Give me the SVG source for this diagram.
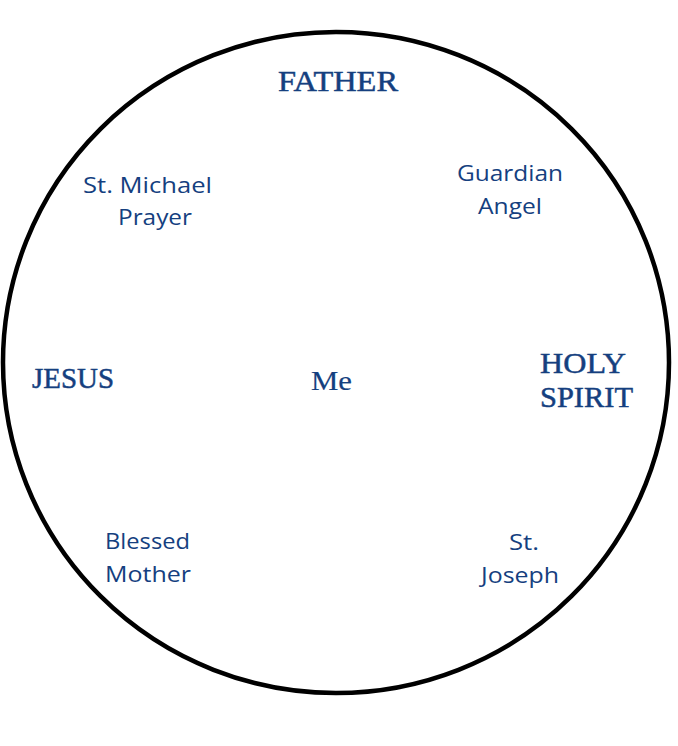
<svg xmlns="http://www.w3.org/2000/svg" width="678" height="746" viewBox="0 0 678 746">
<style>
.serif{font-family:"Liberation Serif","Times New Roman",serif;font-weight:normal;fill:#153f7f;stroke:#153f7f;stroke-width:0.5;font-size:30px}
.sans{font-family:"Open Sans","Liberation Sans",sans-serif;fill:#153f7f;font-size:22px}
</style>
<rect width="678" height="746" fill="#ffffff"/>
<g id="circle">
<ellipse cx="336" cy="362.5" rx="333" ry="330.5" fill="none" stroke="#000000" stroke-width="4.5"/>
</g>
<g id="connectors"></g>
<g id="father"><text class="serif" x="278" y="91" textLength="120" lengthAdjust="spacingAndGlyphs">FATHER</text></g>
<g id="jesus"><text class="serif" x="32" y="388" textLength="82" lengthAdjust="spacingAndGlyphs">JESUS</text></g>
<g id="holy-spirit">
<text class="serif" x="540" y="373" textLength="86" lengthAdjust="spacingAndGlyphs">HOLY</text>
<text class="serif" x="540" y="407" textLength="93" lengthAdjust="spacingAndGlyphs">SPIRIT</text>
</g>
<g id="me"><text class="serif" style="stroke-width:0.2;font-size:27px" x="311" y="390" textLength="41" lengthAdjust="spacingAndGlyphs">Me</text></g>
<g id="st-michael">
<text class="sans" x="83" y="193" textLength="129" lengthAdjust="spacingAndGlyphs">St. Michael</text>
<text class="sans" x="118" y="225" textLength="74" lengthAdjust="spacingAndGlyphs">Prayer</text>
</g>
<g id="guardian-angel">
<text class="sans" x="457" y="181" textLength="106" lengthAdjust="spacingAndGlyphs">Guardian</text>
<text class="sans" x="478" y="214" textLength="64" lengthAdjust="spacingAndGlyphs">Angel</text>
</g>
<g id="blessed-mother">
<text class="sans" x="105" y="549" textLength="85" lengthAdjust="spacingAndGlyphs">Blessed</text>
<text class="sans" x="105" y="582" textLength="86" lengthAdjust="spacingAndGlyphs">Mother</text>
</g>
<g id="st-joseph">
<text class="sans" x="509" y="550" textLength="30" lengthAdjust="spacingAndGlyphs">St.</text>
<text class="sans" x="481" y="583" textLength="78" lengthAdjust="spacingAndGlyphs">Joseph</text>
</g>
</svg>
